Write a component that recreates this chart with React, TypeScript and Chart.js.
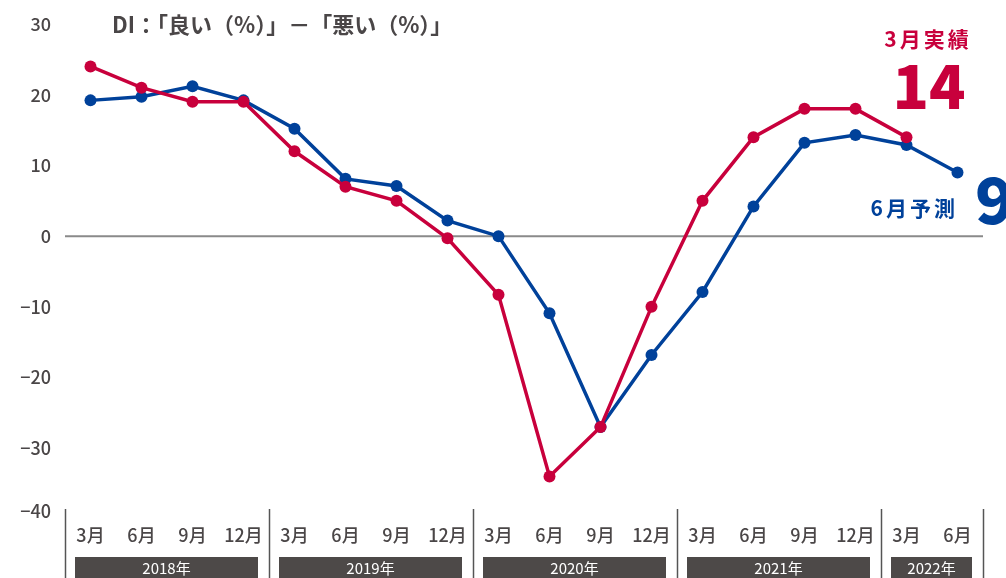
import React, { useEffect, useRef } from "react";
import { Chart, registerables } from "chart.js";

Chart.register(...registerables);

const monthLabels = [
  "3月", "6月", "9月", "12月",
  "3月", "6月", "9月", "12月",
  "3月", "6月", "9月", "12月",
  "3月", "6月", "9月", "12月",
  "3月", "6月",
];
const yearLabels = ["2018年", "2019年", "2020年", "2021年", "2022年"];
const yearSpans = [4, 4, 4, 4, 2];
const actualValues = [24, 21, 19, 19, 12, 7, 5, -0.3, -8.3, -34, -27, -10, 5, 14, 18, 18, 14, null];
const forecastValues = [19.2, 19.7, 21.2, 19.2, 15.2, 8.1, 7.1, 2.2, 0, -10.9, -27, -16.8, -7.9, 4.2, 13.2, 14.3, 12.9, 9];
const yTicks = [30, 20, 10, 0, -10, -20, -30, -40];
const titleText = "DI：「良い（%）」－「悪い（%）」";
const actualCaption = "3月実績";
const actualBig = "14";
const forecastCaption = "6月予測";
const forecastBig = "9";

const RED = "#c8003c";
const BLUE = "#00419a";
const GRAY = "#4a4647";
const FONT = "'Noto Sans CJK JP', 'Noto Sans', sans-serif";

const overlayPlugin = {
  id: "overlay",
  beforeDatasetsDraw(chart: any) {
    const ctx = chart.ctx;
    const y = chart.scales.y;
    const area = chart.chartArea;
    ctx.save();
    ctx.strokeStyle = "#8a8a8a";
    ctx.lineWidth = 2;
    const y0 = y.getPixelForValue(0);
    ctx.beginPath();
    ctx.moveTo(area.left, y0);
    ctx.lineTo(area.right, y0);
    ctx.stroke();
    ctx.restore();
  },
  afterDraw(chart: any) {
    const ctx = chart.ctx;
    const x = chart.scales.x;
    const y = chart.scales.y;
    const area = chart.chartArea;
    const H = chart.height;
    const half = (x.getPixelForValue(1) - x.getPixelForValue(0)) / 2;

    // y tick labels
    ctx.save();
    ctx.fillStyle = GRAY;
    ctx.font = `500 18px ${FONT}`;
    ctx.textAlign = "right";
    ctx.textBaseline = "middle";
    yTicks.forEach((v) => {
      let py = y.getPixelForValue(v);
      if (py > area.bottom - 8) py = area.bottom - 8;
      const label = v < 0 ? "−" + Math.abs(v) : String(v);
      ctx.fillText(label, area.left - 14, py);
    });
    ctx.restore();

    // separators & year boxes
    ctx.save();
    let idx = 0;
    const bounds: number[] = [x.getPixelForValue(0) - half];
    yearSpans.forEach((s) => {
      idx += s;
      bounds.push(x.getPixelForValue(idx - 1) + half);
    });
    ctx.strokeStyle = "#555";
    ctx.lineWidth = 1.5;
    bounds.forEach((bx) => {
      ctx.beginPath();
      ctx.moveTo(Math.round(bx) + 0.5, area.bottom - 10);
      ctx.lineTo(Math.round(bx) + 0.5, H);
      ctx.stroke();
    });
    yearLabels.forEach((lab, i) => {
      const l = bounds[i] + 10;
      const r = bounds[i + 1] - 11;
      ctx.fillStyle = "#4d4948";
      ctx.fillRect(l, area.bottom + 38, r - l, H - (area.bottom + 38));
      ctx.fillStyle = "#ffffff";
      ctx.font = `400 15px ${FONT}`;
      ctx.textAlign = "center";
      ctx.textBaseline = "middle";
      ctx.fillText(lab, (l + r) / 2, area.bottom + 49);
    });
    ctx.restore();

    // title
    ctx.save();
    ctx.fillStyle = GRAY;
    ctx.font = `700 22px ${FONT}`;
    ctx.textAlign = "left";
    ctx.textBaseline = "middle";
    ctx.fillText(titleText, 112, 25);
    ctx.restore();

    // annotations
    ctx.save();
    ctx.textAlign = "center";
    ctx.textBaseline = "middle";
    (ctx as any).letterSpacing = "3px";
    ctx.fillStyle = RED;
    ctx.font = `700 21px ${FONT}`;
    ctx.fillText(actualCaption, 928, 39);
    (ctx as any).letterSpacing = "0px";
    ctx.font = `900 60px ${FONT}`;
    ctx.fillText(actualBig, 929, 86);
    ctx.fillStyle = BLUE;
    (ctx as any).letterSpacing = "3px";
    ctx.font = `700 21px ${FONT}`;
    ctx.textAlign = "right";
    ctx.fillText(forecastCaption, 958, 208);
    (ctx as any).letterSpacing = "0px";
    ctx.font = `900 64px ${FONT}`;
    ctx.textAlign = "left";
    ctx.fillText(forecastBig, 975, 200);
    ctx.restore();
  },
};

export default function App() {
  const canvasRef = useRef<HTMLCanvasElement | null>(null);

  useEffect(() => {
    if (!canvasRef.current) return;
    const chart = new Chart(canvasRef.current, {
      type: "line",
      data: {
        labels: monthLabels,
        datasets: [
          {
            label: "実績",
            data: actualValues,
            borderColor: RED,
            backgroundColor: RED,
            pointBackgroundColor: RED,
            pointBorderColor: RED,
            borderWidth: 3.5,
            pointRadius: 6,
            pointBorderWidth: 0,
            tension: 0,
            clip: false,
            order: 1,
          },
          {
            label: "予測",
            data: forecastValues,
            borderColor: BLUE,
            backgroundColor: BLUE,
            pointBackgroundColor: BLUE,
            pointBorderColor: BLUE,
            borderWidth: 3.5,
            pointRadius: 6,
            pointBorderWidth: 0,
            tension: 0,
            clip: false,
            order: 2,
          },
        ],
      },
      options: {
        animation: false,
        responsive: true,
        maintainAspectRatio: false,
        layout: { padding: { top: 24, right: 23, left: 65, bottom: 0 } },
        plugins: {
          legend: { display: false },
          tooltip: { enabled: false },
          title: { display: false },
        },
        scales: {
          x: {
            type: "category",
            offset: true,
            grid: { display: false, drawTicks: false },
            border: { display: false },
            afterFit: (s: any) => {
              s.height = 59;
            },
            ticks: {
              autoSkip: false,
              maxRotation: 0,
              minRotation: 0,
              padding: 5,
              color: GRAY,
              font: { family: FONT, size: 18, weight: "500" },
            },
          },
          y: {
            display: false,
            min: -40,
            max: 30,
            ticks: { stepSize: 10 },
            grid: { display: false },
          },
        },
      },
      plugins: [overlayPlugin],
    });
    return () => chart.destroy();
  }, []);

  return (
    <div style={{ position: "absolute", left: 0, top: 0, width: 1006, height: 578, background: "#fff" }}>
      <canvas ref={canvasRef} />
    </div>
  );
}
